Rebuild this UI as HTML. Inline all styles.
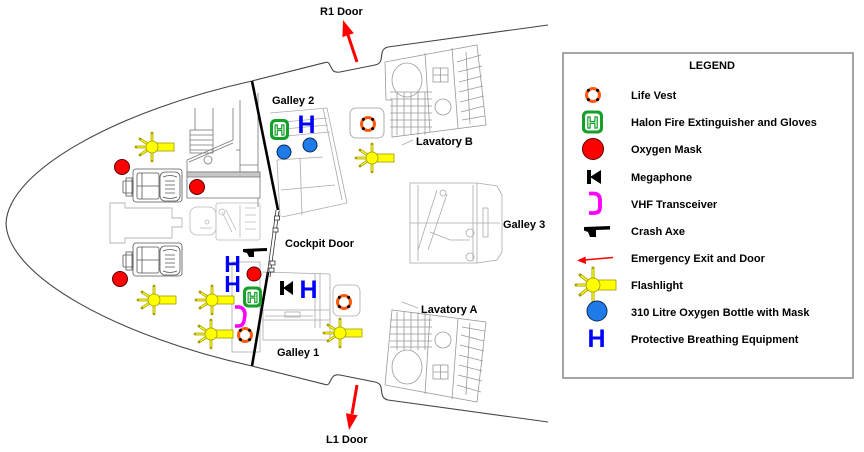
<!DOCTYPE html>
<html><head><meta charset="utf-8">
<style>
html,body{margin:0;padding:0;background:#fff;}
svg{display:block;}
text{font-family:"Liberation Sans",Arial,sans-serif;font-weight:bold;font-size:11px;fill:#000;}
</style></head><body>
<svg width="864" height="452" viewBox="0 0 864 452" xmlns="http://www.w3.org/2000/svg">
<defs>
  <g id="fl">
    <g stroke="#a8a000" stroke-width="2.8" stroke-linecap="round">
      <line x1="0" y1="0" x2="0" y2="-14"/>
      <line x1="0" y1="0" x2="0" y2="14"/>
      <line x1="0" y1="0" x2="-16" y2="0"/>
      <line x1="0" y1="0" x2="-12" y2="-8"/>
      <line x1="0" y1="0" x2="-12" y2="8"/>
    </g>
    <g stroke="#ffff20" stroke-width="1.2">
      <line x1="0" y1="0" x2="0" y2="-13"/>
      <line x1="0" y1="0" x2="0" y2="13"/>
      <line x1="0" y1="0" x2="-15" y2="0"/>
      <line x1="0" y1="0" x2="-11" y2="-7.3"/>
      <line x1="0" y1="0" x2="-11" y2="7.3"/>
    </g>
    <rect x="2" y="-4" width="20" height="8" fill="#ffff00" stroke="#a09800" stroke-width="0.8"/>
    <circle r="6" fill="#ffff00" stroke="#a09800" stroke-width="0.8"/>
  </g>
  <g id="flL">
    <g stroke="#a8a000" stroke-width="3" stroke-linecap="round">
      <line x1="0" y1="0" x2="0" y2="-17"/>
      <line x1="0" y1="0" x2="0" y2="17"/>
      <line x1="0" y1="0" x2="-17" y2="0"/>
      <line x1="0" y1="0" x2="-13" y2="-10"/>
      <line x1="0" y1="0" x2="-13" y2="10"/>
    </g>
    <g stroke="#ffff20" stroke-width="1.3">
      <line x1="0" y1="0" x2="0" y2="-16"/>
      <line x1="0" y1="0" x2="0" y2="16"/>
      <line x1="0" y1="0" x2="-16" y2="0"/>
      <line x1="0" y1="0" x2="-12" y2="-9.2"/>
      <line x1="0" y1="0" x2="-12" y2="9.2"/>
    </g>
    <rect x="3" y="-5" width="20" height="10" fill="#ffff00" stroke="#a09800" stroke-width="0.8"/>
    <circle r="7" fill="#ffff00" stroke="#a09800" stroke-width="0.8"/>
  </g>
  <g id="lv">
    <circle r="6.5" fill="none" stroke="#ff5a0a" stroke-width="3"/>
    <circle cx="4.6" cy="4.6" r="1.5" fill="#000"/>
    <circle cx="-4.6" cy="4.6" r="1.5" fill="#000"/>
    <circle cx="4.6" cy="-4.6" r="1.5" fill="#000"/>
    <circle cx="-4.6" cy="-4.6" r="1.5" fill="#000"/>
  </g>
  <g id="hl">
    <rect x="-9.5" y="-10.5" width="19" height="21" rx="5" fill="#16a02a"/>
    <rect x="-6.5" y="-7.5" width="13" height="15" rx="3" fill="#fff"/>
  </g>
  <g id="seat" fill="none" stroke="#555" stroke-width="0.8">
    <rect x="3" y="2" width="49" height="33" rx="3" fill="#fff"/>
    <rect x="-7" y="14" width="10" height="12" rx="1"/>
    <rect x="-4" y="11" width="6" height="18"/>
    <rect x="7" y="6" width="22" height="26" rx="2"/>
    <rect x="30" y="5" width="20" height="29" rx="5"/>
    <path d="M33,10 Q40,7 47,10 M33,30 Q40,33 47,30 M35,14 L45,14 M35,18 L45,18 M35,22 L45,22 M35,26 L45,26 M7,19 L29,19 M12,6 L12,32"/>
  </g>
  <g id="lav" fill="none" stroke="#999" stroke-width="0.8">
    <path d="M385,62 L477,45 L486,125 L392,137 L392,100 L386,100 Z"/>
    <ellipse cx="407" cy="80" rx="15" ry="17"/>
    <path d="M390,92 L432,92 M390,99 L432,99 M390,106 L432,106 M390,113 L432,113 M390,120 L432,120 M390,127 L432,127 M397,92 L397,135 M404,92 L404,135 M411,92 L411,135 M418,92 L418,135 M425,92 L425,135"/>
    <path d="M425,53 L430,132 M452,48 L458,128"/>
    <rect x="433" y="68" width="15" height="14"/>
    <path d="M440.5,68 L440.5,82 M433,75 L448,75"/>
    <circle cx="443" cy="107" r="8"/>
    <path d="M466,52 L470,124 M457,62 L481,55 M458,72 L482,66 M459,82 L482,76 M459,92 L483,86 M460,102 L484,96 M461,112 L484,106 M462,120 L485,116"/>
  </g>
</defs>

<!-- Fuselage outline -->
<path d="M548,25 L388,47 Q383,48 382,53 L381,60 Q380,64 375,65 L340,72 Q334,73 332,69 L329,63.5 Q328,62 326,62.3 L252,81 C120,110 8,170 6,223.5 C8,277 120,337 252,366 L326,384.7 Q328,385 329,383.5 L332,378 Q334,374 340,375 L375,382 Q380,383 381,387 L382,394 Q383,399 388,400 L548,422" fill="none" stroke="#444" stroke-width="1.1"/>

<!-- Cockpit seats -->
<use href="#seat" x="130" y="167"/>
<use href="#seat" x="130" y="241"/>

<!-- Center pedestal -->
<path d="M110,203 L125,203 L125,208 L172,208 L172,218 L182,218 L182,227 L172,227 L172,238 L125,238 L125,243 L110,243 Z" fill="none" stroke="#b5b5b5" stroke-width="0.9"/>

<!-- Console upper -->
<g fill="none" stroke="#777" stroke-width="0.8">
  <path d="M187,198 L187,160 L233,140 L233,108 M240,100 L240,172 M258,93 L258,207 M195,108 L195,130 M213,108 L213,130"/>
  <rect x="190" y="130" width="23" height="23"/>
  <path d="M190,135 L213,135 M190,140 L213,140 M190,145 L213,145 M190,150 L213,150"/>
  <circle cx="208" cy="160" r="4"/>
  <rect x="187" y="172" width="73" height="26" fill="#fff"/>
  <rect x="187" y="172" width="73" height="5" fill="#c8c8c8"/>
  <path d="M189,162 L233,143 M236,150 L240,150 M240,165 L258,165"/>
</g>
<circle cx="197" cy="187" r="7.5" fill="#ff0000" stroke="#5a0000" stroke-width="1"/>

<!-- Observer seat -->
<g fill="none" stroke="#bbb" stroke-width="0.8">
  <rect x="190" y="207" width="26" height="28" rx="7"/>
  <rect x="216" y="203" width="44" height="37" rx="2"/>
  <circle cx="222" cy="212" r="3"/>
  <circle cx="207" cy="222" r="2"/>
  <path d="M222,212 L232,232 M226,210 L236,230 M240,205 L240,238 M245,208 L256,208 M245,215 L256,215 M245,222 L256,222 M245,229 L256,229 M200,228 L212,228"/>
</g>

<!-- Galley 2 -->
<g fill="none" stroke="#aaa" stroke-width="0.8">
  <path d="M270,113 L327,108 L347,203 L282,217"/>
  <path d="M273,123 L327,118 M273,130 L328,125 M275,137 L330,132"/>
  <path d="M323,108 L342,200 M277,160 L323,157 M277,160 L280,217 M300,158 L302,215 M281,190 L335,185"/>
</g>

<!-- Galley 1 -->
<g fill="none" stroke="#aaa" stroke-width="0.8">
  <rect x="232" y="262" width="28" height="90"/>
  <path d="M262,272 L330,274 L330,320 M262,320 L330,320"/>
  <path d="M315,273 L315,328 M320,273 L320,328"/>
  <rect x="333" y="285" width="27" height="31" rx="6"/>
  <rect x="263" y="310" width="67" height="30"/>
  <path d="M265,316 L313,316"/>
  <rect x="285" y="312" width="15" height="5"/>
</g>

<!-- Lavatory B and A -->
<use href="#lav"/>
<g transform="translate(0,447) scale(1,-1)">
  <g fill="none" stroke="#999" stroke-width="0.8">
    <path d="M385,62 L477,45 L486,125 L392,137 Z"/>
    <ellipse cx="407" cy="80" rx="15" ry="17"/>
    <path d="M390,100 L432,100 M390,106 L432,106 M390,113 L432,113 M390,120 L432,120 M390,127 L432,127 M397,97 L397,135 M404,97 L404,135 M411,97 L411,135 M418,97 L418,135 M425,97 L425,135"/>
    <path d="M425,53 L430,132 M452,48 L458,128"/>
    <rect x="433" y="68" width="15" height="14"/>
    <path d="M440.5,68 L440.5,82 M433,75 L448,75"/>
    <circle cx="443" cy="107" r="8"/>
    <path d="M466,52 L470,124 M457,62 L481,55 M458,72 L482,66 M459,82 L482,76 M459,92 L483,86 M460,102 L484,96 M461,112 L484,106 M462,120 L485,116"/>
  </g>
</g>
<rect x="350" y="108" width="34" height="30" rx="6" fill="none" stroke="#999" stroke-width="0.8"/>
<path d="M402,145 L413,140 M402,302 L418,308" stroke="#aaa" stroke-width="0.8"/>

<!-- Galley 3 -->
<g fill="none" stroke="#aaa" stroke-width="0.8">
  <rect x="410" y="183" width="67" height="80"/>
  <path d="M477,183 L497,186 L502,195 L502,252 L497,260 L477,263"/>
  <path d="M418,185 L418,261 M473,185 L473,261 M410,223 L500,223"/>
  <path d="M437,190 L418,250 M447,194 L428,250"/>
  <circle cx="443" cy="193" r="3"/>
  <path d="M430,232 L450,240 L470,240"/>
  <circle cx="470" cy="233" r="4"/>
  <circle cx="470" cy="257" r="4"/>
  <rect x="483" y="208" width="5" height="29"/>
</g>

<!-- Cockpit walls -->
<line x1="252" y1="81" x2="278" y2="210" stroke="#000" stroke-width="2.6"/>
<line x1="268" y1="272" x2="252" y2="366" stroke="#000" stroke-width="2.6"/>
<g fill="#fff" stroke="#333" stroke-width="0.8">
  <line x1="276" y1="210" x2="267" y2="276"/>
  <line x1="279" y1="211" x2="270" y2="277"/>
  <rect x="274.5" y="216" width="5" height="4"/>
  <rect x="273" y="228" width="5" height="4"/>
  <rect x="270" y="261" width="5" height="4"/>
  <rect x="269" y="268" width="5" height="4"/>
</g>

<!-- Red circles -->
<g fill="#ff0000" stroke="#5a0000" stroke-width="1">
  <circle cx="122" cy="167" r="7.5"/>
  <circle cx="120" cy="279" r="7.5"/>
  <circle cx="254" cy="274" r="7"/>
</g>
<!-- Blue circles -->
<g fill="#1e7be8" stroke="#0a2a5a" stroke-width="1">
  <circle cx="284" cy="152" r="7"/>
  <circle cx="310" cy="145" r="7"/>
</g>

<!-- Blue H -->
<g style="fill:#0000ff">
  <text x="306.5" y="133" text-anchor="middle" style="font-size:25px;fill:#0000ff">H</text>
  <text x="232.5" y="272" text-anchor="middle" style="font-size:23px;fill:#0000ff">H</text>
  <text x="232.5" y="292" text-anchor="middle" style="font-size:23px;fill:#0000ff">H</text>
  <text x="308.5" y="298" text-anchor="middle" style="font-size:25px;fill:#0000ff">H</text>
</g>

<!-- Halon -->
<use href="#hl" x="279.5" y="129.5"/>
<text x="279.5" y="135" text-anchor="middle" style="font-size:15px;fill:#fff;stroke:#16a02a;stroke-width:1.2">H</text>
<use href="#hl" x="252.5" y="297"/>
<text x="252.5" y="302.5" text-anchor="middle" style="font-size:15px;fill:#fff;stroke:#16a02a;stroke-width:1.2">H</text>

<!-- Megaphone -->
<g transform="translate(280,281)">
  <rect x="0" y="0" width="4" height="14" fill="#000"/>
  <polygon points="3,7 13,0 13,14" fill="#000"/>
</g>

<!-- VHF -->
<path d="M235,307 L239,307 Q245,308 245,315 L244,321 Q243,326 238,326 L235,326" fill="none" stroke="#ff00ff" stroke-width="3.5"/>

<!-- Crash axe -->
<polygon points="243,249 267,248 267,251 254,251.5 254,257 249,257 247,253 243,252" fill="#000"/>

<!-- Life vests -->
<use href="#lv" x="368" y="124"/>
<use href="#lv" x="344" y="302"/>
<use href="#lv" x="245" y="335"/>

<!-- Flashlights -->
<use href="#fl" x="152" y="147"/>
<use href="#fl" x="372" y="158"/>
<use href="#fl" x="212" y="300"/>
<use href="#fl" x="211" y="334"/>
<use href="#fl" x="154" y="300"/>
<use href="#fl" x="340" y="333"/>

<!-- Red arrows -->
<line x1="357" y1="62" x2="348" y2="35" stroke="#ff0000" stroke-width="3"/>
<polygon points="343,20 353.8,33.3 342.4,37.1" fill="#ff0000"/>
<line x1="357" y1="385" x2="352" y2="414" stroke="#ff0000" stroke-width="3"/>
<polygon points="349,430 357.7,415.3 345.9,413.2" fill="#ff0000"/>

<!-- Labels -->
<text x="320" y="15">R1 Door</text>
<text x="326" y="443">L1 Door</text>
<text x="272" y="104">Galley 2</text>
<text x="416" y="145">Lavatory B</text>
<text x="503" y="228">Galley 3</text>
<text x="285" y="247">Cockpit Door</text>
<text x="421" y="313">Lavatory A</text>
<text x="277" y="356">Galley 1</text>

<!-- Legend -->
<rect x="563" y="53" width="290" height="325" fill="#fff" stroke="#888" stroke-width="1.5"/>
<text x="712" y="69" text-anchor="middle">LEGEND</text>

<use href="#lv" x="593" y="95"/>
<rect x="582" y="110.5" width="21" height="23" rx="5" fill="#16a02a"/>
<rect x="585" y="113.5" width="15" height="17" rx="3" fill="#fff"/>
<text x="592.5" y="128" text-anchor="middle" style="font-size:16px;fill:#fff;stroke:#16a02a;stroke-width:1.2">H</text>
<circle cx="593" cy="149" r="10.5" fill="#ff0000" stroke="#5a0000" stroke-width="1"/>
<g transform="translate(587,170)">
  <rect x="0" y="0" width="4" height="14" fill="#000"/>
  <polygon points="3,7 14,0 14,14" fill="#000"/>
</g>
<path d="M589,193.5 L594,193.5 Q600,194 600,200 L600,207 Q600,213 594,213 L589,213" fill="none" stroke="#ff00ff" stroke-width="3.8"/>
<polygon points="584,227 610,226 610,229.5 596,230 596,237 590,237 588,232 584,230.5" fill="#000"/>
<line x1="613" y1="257.5" x2="584" y2="260" stroke="#ff0000" stroke-width="1.5"/>
<polygon points="577,260.5 585.5,256.5 586,264" fill="#ff0000"/>
<use href="#flL" x="593" y="285"/>
<circle cx="597" cy="311" r="10" fill="#1e7be8" stroke="#0a2a5a" stroke-width="1"/>
<text x="596.5" y="347" text-anchor="middle" style="font-size:25px;fill:#0000ff">H</text>

<text x="631" y="99">Life Vest</text>
<text x="631" y="126">Halon Fire Extinguisher and Gloves</text>
<text x="631" y="153">Oxygen Mask</text>
<text x="631" y="181">Megaphone</text>
<text x="631" y="208">VHF Transceiver</text>
<text x="631" y="235">Crash Axe</text>
<text x="631" y="262">Emergency Exit and Door</text>
<text x="631" y="289">Flashlight</text>
<text x="631" y="316">310 Litre Oxygen Bottle with Mask</text>
<text x="631" y="343">Protective Breathing Equipment</text>
</svg>
</body></html>
